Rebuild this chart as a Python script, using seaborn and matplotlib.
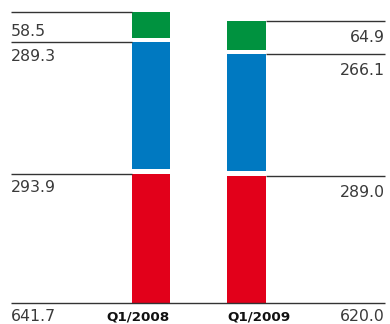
import matplotlib
matplotlib.use("Agg")
import matplotlib.pyplot as plt
import seaborn as sns
import numpy as np
import pandas as pd

# ---- data ----
periods = ["Q1/2008", "Q1/2009"]
red_vals = [293.9, 289.0]
blue_vals = [289.3, 266.1]
green_vals = [58.5, 64.9]
totals = [641.7, 620.0]
red_labels = ["293.9", "289.0"]
blue_labels = ["289.3", "266.1"]
green_labels = ["58.5", "64.9"]
total_labels = ["641.7", "620.0"]

sns.set_theme(style="white")
plt.rcParams['font.family'] = ['DejaVu Sans']

W, H = 390, 324
fig = plt.figure(figsize=(W / 100, H / 100), dpi=100)
ax = fig.add_axes([0, 0, 1, 1])

colors = ["#E2001A", "#0079C1", "#00923F"]
series = [red_vals, blue_vals, green_vals]
labels = [red_labels, blue_labels, green_labels]
gap = 10.0
bar_w = 0.4

bottoms = np.zeros(len(periods))
tops = []
for vals, c in zip(series, colors):
    df = pd.DataFrame({"period": periods, "value": vals})
    sns.barplot(data=df, x="period", y="value", color=c, width=bar_w,
                bottom=bottoms, saturation=1, errorbar=None, ax=ax,
                linewidth=0, order=periods)
    bottoms = bottoms + np.array(vals)
    tops.append(bottoms.copy())
    bottoms = bottoms + gap

# axes scale: 0.44 px per unit, baseline 21 px above bottom
scale = 0.44
ax.set_ylim(-21 / scale, (H - 21) / scale)
x0px, unit = 151.0, 95.5
ax.set_xlim(-x0px / unit, (W - x0px) / unit)
xl = (11 - x0px) / unit
xr = (385 - x0px) / unit

line_c = "#333333"
text_c = "#3a3a3a"
fs = 11.3

# offsets (pixels) from line to text baseline
left_off = [18.4, 19.4, 24.0]
right_off = [21.0, 20.7, 20.7]

for k in range(3):
    yL = tops[k][0]
    yR = tops[k][1]
    ax.plot([xl, 0 - bar_w / 2], [yL, yL], color=line_c, lw=1.0, solid_capstyle="butt")
    ax.plot([1 + bar_w / 2, xr], [yR, yR], color=line_c, lw=1.0, solid_capstyle="butt")
    ax.annotate(labels[k][0], xy=(xl, yL), xytext=(0, -left_off[k]),
                textcoords="offset pixels", ha="left", va="baseline",
                fontsize=fs, color=text_c)
    ax.annotate(labels[k][1], xy=(xr, yR), xytext=(0, -right_off[k]),
                textcoords="offset pixels", ha="right", va="baseline",
                fontsize=fs, color=text_c)

# baseline
ax.plot([xl, xr], [0, 0], color=line_c, lw=1.0, solid_capstyle="butt")
ax.annotate(total_labels[0], xy=(xl, 0), xytext=(0, -18), textcoords="offset pixels",
            ha="left", va="baseline", fontsize=fs, color=text_c)
ax.annotate(total_labels[1], xy=(xr, 0), xytext=(0, -18), textcoords="offset pixels",
            ha="right", va="baseline", fontsize=fs, color=text_c)

ax.annotate(periods[0], xy=(0 + bar_w / 2, 0), xytext=(0, -18), textcoords="offset pixels",
            ha="right", va="baseline", fontsize=9.7, fontweight="bold", color="#111111")
ax.annotate(periods[1], xy=(1 - bar_w / 2, 0), xytext=(0, -18), textcoords="offset pixels",
            ha="left", va="baseline", fontsize=9.7, fontweight="bold", color="#111111")

ax.set_axis_off()
fig.savefig("out.png", dpi=100)
